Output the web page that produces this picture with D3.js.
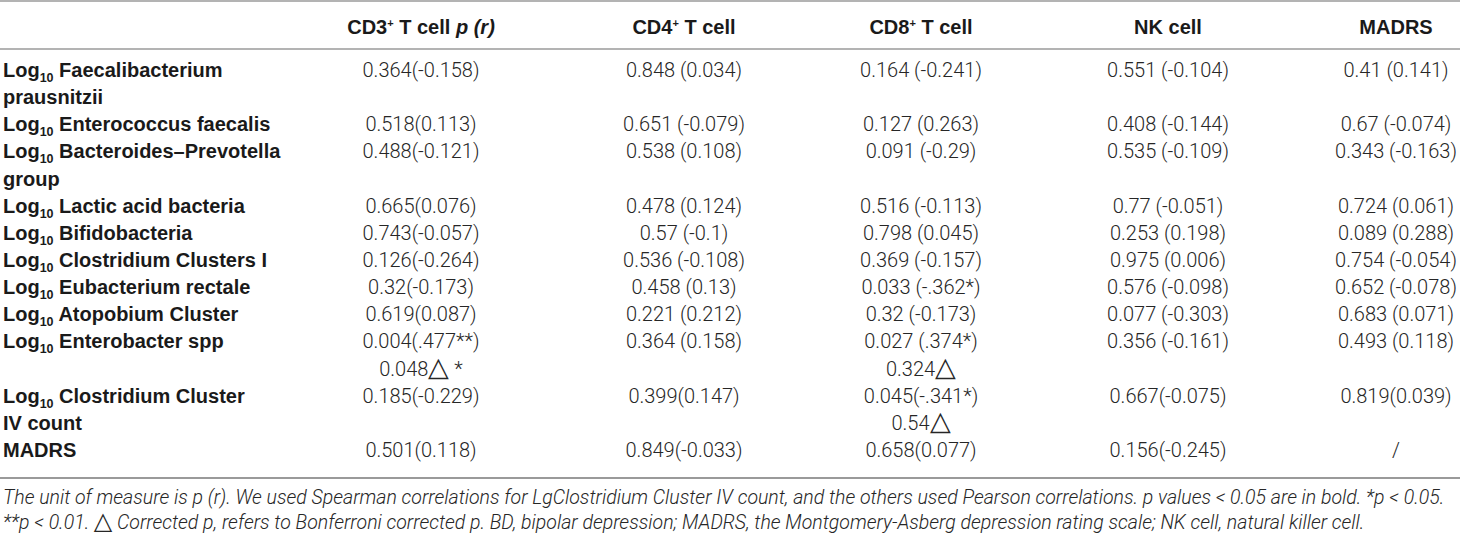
<!DOCTYPE html>
<html>
<head>
<meta charset="utf-8">
<script src="https://cdn.jsdelivr.net/npm/d3@7"></script>
<style>
  body { margin: 0; background: #fff; }
</style>
</head>
<body>
<div id="vis"></div>
<script>
// Table: gut microbiota vs T cell subsets / MADRS

// column headers: main text, superscript, rest, italic tail
const headMain = ["CD3", "CD4", "CD8", "NK cell", "MADRS"];
const headSup  = ["+", "+", "+", "", ""];
const headRest = [" T cell", " T cell", " T cell", "", ""];
const headItal = [" p (r)", "", "", "", ""];

// row labels (already split as wrapped in the source); logPrefix = has "Log10"
const rowLabels = [
  ["Faecalibacterium", "prausnitzii"],
  ["Enterococcus faecalis"],
  ["Bacteroides–Prevotella", "group"],
  ["Lactic acid bacteria"],
  ["Bifidobacteria"],
  ["Clostridium Clusters I"],
  ["Eubacterium rectale"],
  ["Atopobium Cluster"],
  ["Enterobacter spp"],
  ["Clostridium Cluster", "IV count"],
  ["MADRS"]
];
const logPrefix = [true, true, true, true, true, true, true, true, true, true, false];

// cell values, p (r)
const cd3 = ["0.364(-0.158)", "0.518(0.113)", "0.488(-0.121)", "0.665(0.076)", "0.743(-0.057)",
  "0.126(-0.264)", "0.32(-0.173)", "0.619(0.087)", "0.004(.477**)", "0.185(-0.229)", "0.501(0.118)"];
const cd4 = ["0.848 (0.034)", "0.651 (-0.079)", "0.538 (0.108)", "0.478 (0.124)", "0.57 (-0.1)",
  "0.536 (-0.108)", "0.458 (0.13)", "0.221 (0.212)", "0.364 (0.158)", "0.399(0.147)", "0.849(-0.033)"];
const cd8 = ["0.164 (-0.241)", "0.127 (0.263)", "0.091 (-0.29)", "0.516 (-0.113)", "0.798 (0.045)",
  "0.369 (-0.157)", "0.033 (-.362*)", "0.32 (-0.173)", "0.027 (.374*)", "0.045(-.341*)", "0.658(0.077)"];
const nk = ["0.551 (-0.104)", "0.408 (-0.144)", "0.535 (-0.109)", "0.77 (-0.051)", "0.253 (0.198)",
  "0.975 (0.006)", "0.576 (-0.098)", "0.077 (-0.303)", "0.356 (-0.161)", "0.667(-0.075)", "0.156(-0.245)"];
const madrs = ["0.41 (0.141)", "0.67 (-0.074)", "0.343 (-0.163)", "0.724 (0.061)", "0.089 (0.288)",
  "0.754 (-0.054)", "0.652 (-0.078)", "0.683 (0.071)", "0.493 (0.118)", "0.819(0.039)", "/"];

// Bonferroni corrected p, shown on a second line: [column, row, text]
const corrected = [
  [0, 8, "0.048△ *"],
  [2, 8, "0.324△"],
  [2, 9, "0.54△"]
];

const footnotes = [
  "The unit of measure is p (r). We used Spearman correlations for LgClostridium Cluster IV count, and the others used Pearson correlations. p values < 0.05 are in bold. *p < 0.05.",
  "**p < 0.01. △ Corrected p, refers to Bonferroni corrected p. BD, bipolar depression; MADRS, the Montgomery-Asberg depression rating scale; NK cell, natural killer cell."
];

const columns = [cd3, cd4, cd8, nk, madrs];

const width = 1460;
const height = 535;
const fs = 20;

const svg = d3.select("#vis")
  .append("svg")
  .attr("width", width)
  .attr("height", height)
  .style("font-family", "'Liberation Sans', Arial, sans-serif");

// the triangle glyph is drawn larger than the surrounding text
function fillWithTriangle(sel, str, size) {
  str.split(/(△)/).forEach(part => {
    if (!part) return;
    const ts = sel.append("tspan").text(part);
    if (part === "△") ts.attr("font-size", size).attr("font-family", "'DejaVu Sans', sans-serif").attr("font-weight", 200);
  });
}

// work out which text line each row starts on
const rowStart = [];
let line = 0;
rowLabels.forEach((lab, i) => {
  rowStart.push(line);
  const extra = corrected.some(c => c[1] === i) ? 2 : 1;
  line += Math.max(lab.length, extra);
});
const nLines = line;

const yLine = d3.scaleLinear()
  .domain([0, nLines - 1])
  .range([77, 457]);

const xCol = d3.scaleOrdinal()
  .domain(d3.range(columns.length))
  .range([421, 684, 921, 1168, 1396]);

// rules
const rules = [
  { y: 1, w: 1.6 },
  { y: 49, w: 1.4 },
  { y: 478, w: 2 }
];
svg.selectAll("line.rule")
  .data(rules)
  .enter()
  .append("line")
  .attr("class", "rule")
  .attr("x1", 0).attr("x2", width)
  .attr("y1", d => d.y).attr("y2", d => d.y)
  .attr("stroke", "#9a9a9a")
  .attr("stroke-width", d => d.w);

// header
const head = svg.selectAll("text.head")
  .data(headMain)
  .enter()
  .append("text")
  .attr("class", "head")
  .attr("x", (d, i) => xCol(i))
  .attr("y", 34)
  .attr("text-anchor", "middle")
  .attr("font-size", fs)
  .attr("font-weight", "bold")
  .attr("fill", "#1a1a1a");

head.each(function(d, i) {
  const t = d3.select(this);
  t.append("tspan").text(d);
  if (headSup[i]) {
    t.append("tspan").attr("font-size", 11).attr("dy", -7).text(headSup[i]);
    t.append("tspan").attr("dy", 7).text(headRest[i]);
  }
  if (headItal[i]) t.append("tspan").attr("font-style", "italic").text(headItal[i]);
});

// row labels
rowLabels.forEach((lab, i) => {
  lab.forEach((txt, j) => {
    const t = svg.append("text")
      .attr("x", 3)
      .attr("y", yLine(rowStart[i] + j))
      .attr("font-size", fs)
      .attr("font-weight", "bold")
      .attr("fill", "#1a1a1a");
    if (j === 0 && logPrefix[i]) {
      t.append("tspan").text("Log");
      t.append("tspan").attr("font-size", 12.5).attr("dy", 5).text("10");
      t.append("tspan").attr("dy", -5).text(" " + txt);
    } else {
      t.text(txt);
    }
  });
});

// cell values
columns.forEach((col, c) => {
  svg.selectAll(null)
    .data(col)
    .enter()
    .append("text")
    .attr("x", xCol(c))
    .attr("y", (d, r) => yLine(rowStart[r]))
    .attr("text-anchor", "middle")
    .attr("font-family", "Roboto, 'Liberation Sans', sans-serif")
    .attr("font-weight", 300)
    .attr("font-size", fs)
    .attr("fill", "#262626")
    .text(d => d);
});

svg.selectAll("text.corr")
  .data(corrected)
  .enter()
  .append("text")
  .attr("class", "corr")
  .attr("x", d => xCol(d[0]))
  .attr("y", d => yLine(rowStart[d[1]] + 1))
  .attr("text-anchor", "middle")
  .attr("font-family", "Roboto, 'Liberation Sans', sans-serif")
  .attr("font-weight", 300)
  .attr("font-size", fs)
  .attr("fill", "#262626")
  .each(function(d) { fillWithTriangle(d3.select(this), d[2], 27); });

// footnote
svg.selectAll("text.foot")
  .data(footnotes)
  .enter()
  .append("text")
  .attr("class", "foot")
  .attr("x", 3)
  .attr("y", (d, i) => 504 + i * 25)
  .attr("font-family", "Roboto, 'Liberation Sans', sans-serif")
  .attr("font-weight", 300)
  .attr("font-style", "italic")
  .attr("font-size", 19.5)
  .attr("fill", "#262626")
  .each(function(d) { fillWithTriangle(d3.select(this), d, 24); });
</script>
</body>
</html>
